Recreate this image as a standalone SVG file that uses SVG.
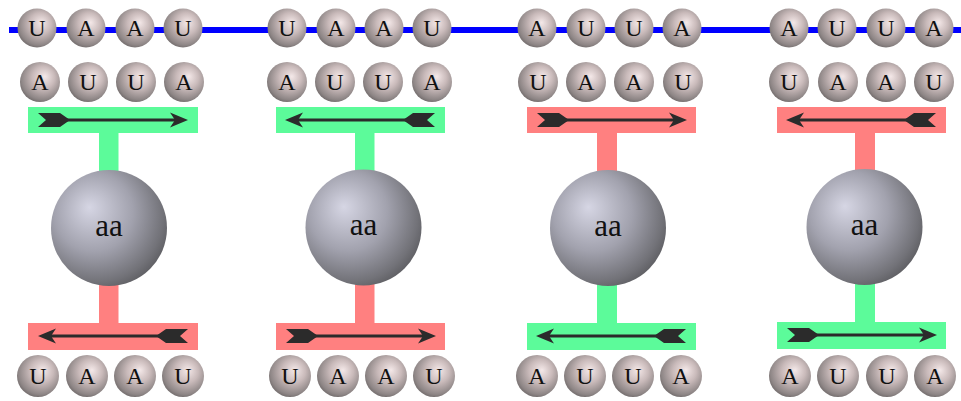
<svg xmlns="http://www.w3.org/2000/svg" xmlns:xlink="http://www.w3.org/1999/xlink" width="961" height="401" viewBox="0 0 961 401">
  <style>
    .base text { font-family: "Liberation Serif", "Times New Roman", serif; font-size: 24px; fill: #111; text-anchor: middle; dominant-baseline: central; }
    .aa { font-family: "Liberation Serif", "Times New Roman", serif; font-size: 31px; fill: #111; text-anchor: middle; dominant-baseline: central; }
    .green { fill: #5cfb9a; }
    .red { fill: #ff8080; }
    .base circle { fill: url(#smallBall); }
    .big { fill: url(#bigBall); }
  </style>
  <defs>
    <radialGradient id="smallBall" cx="0.55" cy="0.42" r="0.62" fx="0.62" fy="0.36">
      <stop offset="0" stop-color="#f4e8e8"/>
      <stop offset="0.45" stop-color="#c9baba"/>
      <stop offset="0.85" stop-color="#8e8686"/>
      <stop offset="1" stop-color="#6c6666"/>
    </radialGradient>
    <radialGradient id="bigBall" cx="0.4" cy="0.4" r="0.68" fx="0.33" fy="0.32">
      <stop offset="0" stop-color="#d6d6e4"/>
      <stop offset="0.5" stop-color="#a2a2ae"/>
      <stop offset="0.85" stop-color="#727278"/>
      <stop offset="1" stop-color="#58585c"/>
    </radialGradient>
    <!-- right-pointing fletched arrow, drawn for a 170-wide bar, centred on y=0 -->
    <g id="arrowR" fill="#2b2b2b">
      <path d="M10,-7 L32,-7 L42,0 L32,7 L10,7 L18,0 Z"/>
      <rect x="38" y="-1.5" width="112" height="3"/>
      <path d="M160,0 L142,-7.5 L147,0 L142,7.5 Z"/>
    </g>
  </defs>

  <rect width="961" height="401" fill="#ffffff"/>

  <!-- strand -->
  <g id="connectors">
    <line x1="9" y1="30" x2="961" y2="30" stroke="#0000ff" stroke-width="6"/>
  </g>

  <!-- panel 1 -->
  <g id="panel1">
    <g class="base">
      <circle cx="37" cy="28" r="19.5"/><text x="37" y="28">U</text>
      <circle cx="86" cy="28" r="19.5"/><text x="86" y="28">A</text>
      <circle cx="135" cy="28" r="19.5"/><text x="135" y="28">A</text>
      <circle cx="183" cy="28" r="19.5"/><text x="183" y="28">U</text>
      <circle cx="40" cy="82" r="20"/><text x="40" y="82">A</text>
      <circle cx="88" cy="82" r="20"/><text x="88" y="82">U</text>
      <circle cx="136" cy="82" r="20"/><text x="136" y="82">U</text>
      <circle cx="184" cy="82" r="20"/><text x="184" y="82">A</text>
      <circle cx="38" cy="376" r="21"/><text x="38" y="376">U</text>
      <circle cx="87" cy="376" r="21"/><text x="87" y="376">A</text>
      <circle cx="135" cy="376" r="21"/><text x="135" y="376">A</text>
      <circle cx="183" cy="376" r="21"/><text x="183" y="376">U</text>
    </g>
    <rect class="green" x="28" y="107" width="170" height="26"/>
    <rect class="green" x="99" y="130" width="19.5" height="50"/>
    <rect class="red" x="99" y="275" width="19.5" height="50"/>
    <rect class="red" x="28" y="323" width="170" height="27"/>
    <use xlink:href="#arrowR" transform="translate(28,120)"/>
    <use xlink:href="#arrowR" transform="translate(198,336) scale(-1,1)"/>
    <circle class="big" cx="109" cy="228" r="58"/>
    <text class="aa" x="109" y="225">aa</text>
  </g>

  <!-- panel 2 -->
  <g id="panel2">
    <g class="base">
      <circle cx="287" cy="28" r="19.5"/><text x="287" y="28">U</text>
      <circle cx="336" cy="28" r="19.5"/><text x="336" y="28">A</text>
      <circle cx="384" cy="28" r="19.5"/><text x="384" y="28">A</text>
      <circle cx="432" cy="28" r="19.5"/><text x="432" y="28">U</text>
      <circle cx="287" cy="82" r="20"/><text x="287" y="82">A</text>
      <circle cx="335" cy="82" r="20"/><text x="335" y="82">U</text>
      <circle cx="383" cy="82" r="20"/><text x="383" y="82">U</text>
      <circle cx="432" cy="82" r="20"/><text x="432" y="82">A</text>
      <circle cx="290" cy="376" r="21"/><text x="290" y="376">U</text>
      <circle cx="338" cy="376" r="21"/><text x="338" y="376">A</text>
      <circle cx="386" cy="376" r="21"/><text x="386" y="376">A</text>
      <circle cx="434" cy="376" r="21"/><text x="434" y="376">U</text>
    </g>
    <rect class="green" x="276" y="107" width="169" height="26"/>
    <rect class="green" x="355" y="130" width="19.5" height="50"/>
    <rect class="red" x="355" y="275" width="19.5" height="50"/>
    <rect class="red" x="276" y="323" width="169" height="27"/>
    <use xlink:href="#arrowR" transform="translate(445,120) scale(-1,1)"/>
    <use xlink:href="#arrowR" transform="translate(276,336)"/>
    <circle class="big" cx="363.5" cy="227.5" r="58"/>
    <text class="aa" x="363.5" y="224.5">aa</text>
  </g>

  <!-- panel 3 -->
  <g id="panel3">
    <g class="base">
      <circle cx="537" cy="28" r="19.5"/><text x="537" y="28">A</text>
      <circle cx="586" cy="28" r="19.5"/><text x="586" y="28">U</text>
      <circle cx="634" cy="28" r="19.5"/><text x="634" y="28">U</text>
      <circle cx="682" cy="28" r="19.5"/><text x="682" y="28">A</text>
      <circle cx="538" cy="82" r="20"/><text x="538" y="82">U</text>
      <circle cx="586" cy="82" r="20"/><text x="586" y="82">A</text>
      <circle cx="634" cy="82" r="20"/><text x="634" y="82">A</text>
      <circle cx="683" cy="82" r="20"/><text x="683" y="82">U</text>
      <circle cx="537" cy="376" r="21"/><text x="537" y="376">A</text>
      <circle cx="585" cy="376" r="21"/><text x="585" y="376">U</text>
      <circle cx="633" cy="376" r="21"/><text x="633" y="376">U</text>
      <circle cx="681" cy="376" r="21"/><text x="681" y="376">A</text>
    </g>
    <rect class="red" x="527" y="107" width="169" height="26"/>
    <rect class="red" x="597" y="130" width="20" height="50"/>
    <rect class="green" x="597" y="275" width="20" height="50"/>
    <rect class="green" x="527" y="323" width="169" height="27"/>
    <use xlink:href="#arrowR" transform="translate(527,120)"/>
    <use xlink:href="#arrowR" transform="translate(696,336) scale(-1,1)"/>
    <circle class="big" cx="608" cy="228" r="58"/>
    <text class="aa" x="608" y="225">aa</text>
  </g>

  <!-- panel 4 -->
  <g id="panel4">
    <g class="base">
      <circle cx="789" cy="28" r="19.5"/><text x="789" y="28">A</text>
      <circle cx="837" cy="28" r="19.5"/><text x="837" y="28">U</text>
      <circle cx="886" cy="28" r="19.5"/><text x="886" y="28">U</text>
      <circle cx="934" cy="28" r="19.5"/><text x="934" y="28">A</text>
      <circle cx="789" cy="82" r="20"/><text x="789" y="82">U</text>
      <circle cx="838" cy="82" r="20"/><text x="838" y="82">A</text>
      <circle cx="886" cy="82" r="20"/><text x="886" y="82">A</text>
      <circle cx="934" cy="82" r="20"/><text x="934" y="82">U</text>
      <circle cx="790" cy="376" r="21"/><text x="790" y="376">A</text>
      <circle cx="838" cy="376" r="21"/><text x="838" y="376">U</text>
      <circle cx="887" cy="376" r="21"/><text x="887" y="376">U</text>
      <circle cx="935" cy="376" r="21"/><text x="935" y="376">A</text>
    </g>
    <rect class="red" x="777" y="107" width="169" height="26"/>
    <rect class="red" x="855" y="130" width="20" height="50"/>
    <rect class="green" x="855" y="275" width="20" height="50"/>
    <rect class="green" x="777" y="322" width="169" height="27"/>
    <use xlink:href="#arrowR" transform="translate(946,120) scale(-1,1)"/>
    <use xlink:href="#arrowR" transform="translate(777,335)"/>
    <circle class="big" cx="864.5" cy="227" r="58"/>
    <text class="aa" x="864.5" y="224">aa</text>
  </g>
</svg>
